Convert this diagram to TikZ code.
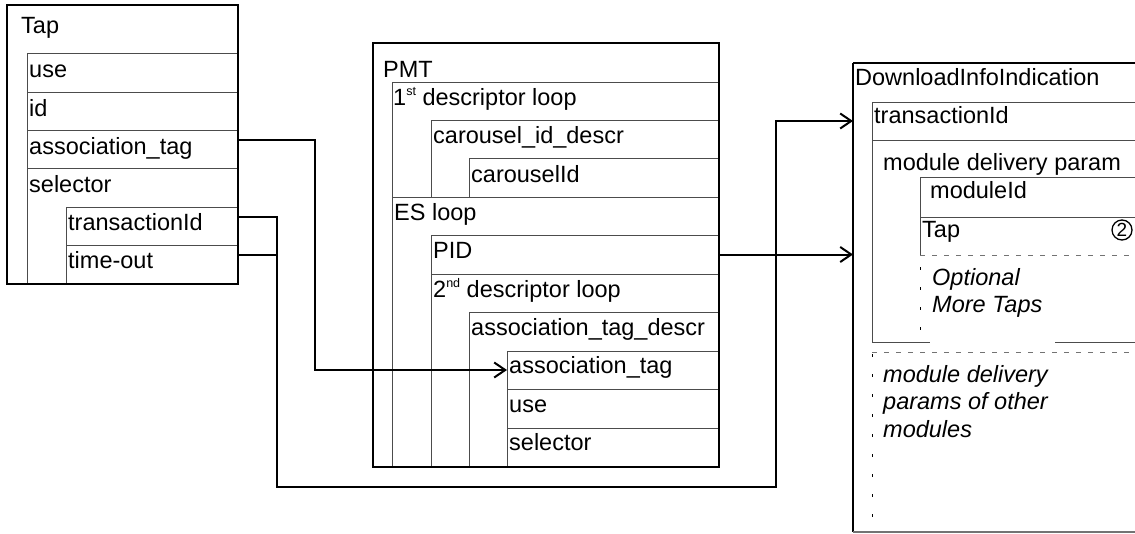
\documentclass[tikz,border=0pt]{standalone}
\usepackage{fontspec}
\setmainfont{Liberation Sans}
\usetikzlibrary{arrows.meta}
\definecolor{cellgray}{gray}{0.3}
\definecolor{dashgray}{gray}{0.45}
\newcommand\mycell[5]{\node[cell, minimum width=#4pt, minimum height=#5pt] (#1) at (#2,#3) {};}
\newcommand\mysup[1]{\raisebox{10pt}{\fontsize{12.5}{12.5}\selectfont #1}}
\begin{document}
\begin{tikzpicture}[x=1pt,y=-1pt,
  cell/.style={draw=cellgray, line width=1pt, anchor=north west, inner sep=0pt, outer sep=0pt},
  outerbox/.style={draw=black, line width=2pt, anchor=north west, inner sep=0pt, outer sep=0pt},
  hidden/.style={draw=none, anchor=north west, inner sep=0pt, outer sep=0pt},
  lbl/.style={anchor=base west, inner sep=0pt, font=\fontsize{23.5}{27}\selectfont},
  ilbl/.style={anchor=base west, inner sep=0pt, font=\fontsize{23.5}{27}\selectfont\itshape},
  conn/.style={line width=2pt, draw=black},
  arr/.style={conn, -{Straight Barb[length=11pt,width=15pt]}},
  grayline/.style={draw=cellgray, line width=1pt},
  dgray/.style={draw=dashgray, line width=1pt, dash pattern=on 5pt off 7pt},
  dtick/.style={draw=black, line width=1pt, dash pattern=on 3pt off 17pt},
  ]
\useasboundingbox (0,0) rectangle (1135,533);

% ---------------- Tap ----------------
\mycell{tUse}{27}{53}{211}{39}
\mycell{tId}{27}{92}{211}{38}
\mycell{tAssoc}{27}{130}{211}{38}
\mycell{tSel}{27}{168}{211}{116}
\mycell{tTrans}{66}{207}{172}{38}
\mycell{tTime}{66}{245}{172}{39}
\node[outerbox, minimum width=231pt, minimum height=279pt] (tap) at (7,5) {};
\node[lbl] (tapL) at (21,33) {Tap};
\node[lbl] (tUseL) at (29,77) {use};
\node[lbl] (tIdL) at (29,116) {id};
\node[lbl] (tAssocL) at (29,154) {association\_tag};
\node[lbl] (tSelL) at (29,192) {selector};
\node[lbl] (tTransL) at (68,230) {transactionId};
\node[lbl] (tTimeL) at (68,268) {time-out};

% ---------------- PMT ----------------
\mycell{p1st}{392}{82}{327}{115}
\mycell{pCar}{431}{120}{288}{77}
\mycell{pCarId}{469}{158}{250}{39}
\mycell{pES}{392}{197}{327}{270}
\mycell{pPID}{431}{235}{288}{39}
\mycell{p2nd}{431}{274}{288}{193}
\mycell{pAtd}{469}{312}{250}{155}
\mycell{pAssoc}{507}{351}{212}{38}
\mycell{pUse}{507}{389}{212}{39}
\mycell{pSel}{507}{428}{212}{39}
\node[outerbox, minimum width=346pt, minimum height=424pt] (pmt) at (373,43) {};
\node[lbl] (pmtL) at (383,77) {PMT};
\node[lbl] (p1stL) at (393,105) {1\mysup{st} descriptor loop};
\node[lbl] (pCarL) at (433,143) {carousel\_id\_descr};
\node[lbl] (pCarIdL) at (471,182) {carouselId};
\node[lbl] (pESL) at (394,220) {ES loop};
\node[lbl] (pPIDL) at (433,258) {PID};
\node[lbl] (p2ndL) at (433,297) {2\mysup{nd} descriptor loop};
\node[lbl] (pAtdL) at (471,335) {association\_tag\_descr};
\node[lbl] (pAssocL) at (509,373) {association\_tag};
\node[lbl] (pUseL) at (509,412) {use};
\node[lbl] (pSelL) at (509,450) {selector};

% ---------------- DownloadInfoIndication ----------------
\node[hidden, minimum width=290pt, minimum height=469pt] (dii) at (853,63) {};
\mycell{dTrans}{872}{102}{271}{38}
\node[hidden, minimum width=271pt, minimum height=202pt] (dMod) at (872,140) {};
\mycell{dModId}{920}{177}{223}{40}
\node[hidden, minimum width=223pt, minimum height=38pt] (dTap) at (920,217) {};
\draw[grayline] (dMod.north west) -- (dMod.south west);
\draw[grayline] (dMod.south west) -- ++(58,0);
\draw[grayline] (dMod.south east) -- ++(-88,0);
\draw[grayline] (dTap.north west) -- (dTap.south west);
\draw[dgray] (dTap.south west) -- (dTap.south east);
\draw[dtick] (dTap.south west) ++(0,12) -- (dMod.south west -| dTap.west);
\draw[dgray] ([yshift=-10pt]dMod.south west) -- ([yshift=-10pt]dMod.south east);
\draw[dtick] ([yshift=-12pt]dMod.south west) -- (dii.south -| dMod.west);
\draw[line width=2.5pt] (dii.north west) -- (dii.south west);
\draw[line width=1.5pt] (dii.north west) -- (dii.north east);
\draw[line width=1.5pt, draw=dashgray] (dii.south west) -- (dii.south east);
\node[lbl] (diiL) at (855,85) {DownloadInfoIndication};
\node[lbl] (dTransL) at (874,123) {transactionId};
\node[lbl] (dModL) at (883,170) {module delivery param};
\node[lbl] (dModIdL) at (930,198) {moduleId};
\node[lbl] (dTapL) at (922,237) {Tap};
\node[circle, draw, line width=1.3pt, minimum size=20pt, inner sep=0pt, font=\fontsize{19}{19}\selectfont] (circ) at (1122,230) {2};
\node[ilbl] (opt1) at (932,285) {Optional};
\node[ilbl] (opt2) at (932,312) {More Taps};
\node[ilbl] (oth1) at (883,382) {module delivery};
\node[ilbl] (oth2) at (883,409) {params of other};
\node[ilbl] (oth3) at (883,437) {modules};

% ---------------- connectors ----------------
\coordinate (bus) at (277,487);
\coordinate (riser) at (776,487);
\draw[arr] ([yshift=9pt]tAssoc.east) -- ++(77,0) |- (pAssoc.west);
\draw[arr] ([yshift=9pt]tTrans.east) -| (bus) -- (riser) |- (dTrans -| dii.west);
\draw[conn] ([yshift=9.5pt]tTime.east) -- ++(39,0);
\draw[arr] (pPID.east) -- (pPID.east -| dii.west);
\end{tikzpicture}
\end{document}
